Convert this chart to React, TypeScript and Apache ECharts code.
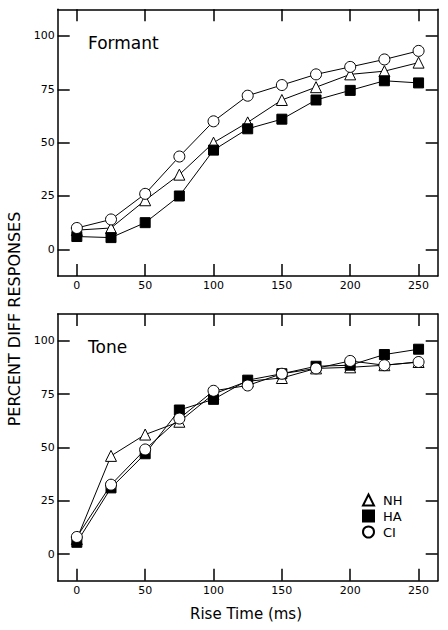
import React, { useEffect, useRef } from "react";
import * as echarts from "echarts";

const riseTime = [0, 25, 50, 75, 100, 125, 150, 175, 200, 225, 250];
const xTicks = [0, 50, 100, 150, 200, 250];
const yTicks = [0, 25, 50, 75, 100];
const seriesNames = ["NH", "HA", "CI"];

const formantNH = [9, 10, 23, 35, 50, 59.5, 70, 76, 82, 83.5, 87.5];
const formantHA = [6, 5.5, 12.5, 25, 46.5, 56.5, 61, 70, 74.5, 79, 78];
const formantCI = [10, 14, 26, 43.5, 60, 72, 77, 82, 85.5, 89, 93];

const toneNH = [7, 46, 56, 62, 75, 81, 82.5, 87, 87.5, 88.5, 90];
const toneHA = [5.5, 31, 47, 67.5, 72.5, 81.5, 84.5, 88, 88.5, 93.5, 96];
const toneCI = [8, 32.5, 49, 63.5, 76.5, 79, 84.5, 87, 90.5, 88.5, 90];

const FONT = "DejaVu Sans";

export default function App() {
  const ref = useRef<HTMLDivElement>(null);

  useEffect(() => {
    if (!ref.current) return;
    const chart = echarts.init(ref.current, null, { renderer: "svg" });

    const axisLineStyle = { color: "#000", width: 1.5 };
    const makeX = (gridIndex: number, position: "bottom" | "top", labels: boolean) => ({
      type: "value",
      gridIndex,
      position,
      min: -14,
      max: 264,
      axisLine: { show: true, onZero: false, lineStyle: axisLineStyle },
      axisTick: { show: true, inside: true, length: 12, customValues: xTicks, lineStyle: axisLineStyle },
      axisLabel: {
        show: labels,
        customValues: xTicks,
        margin: 4,
        color: "#000",
        fontSize: 11,
        fontFamily: FONT,
      },
      splitLine: { show: false },
    });
    const makeY = (gridIndex: number, position: "left" | "right", labels: boolean) => ({
      type: "value",
      gridIndex,
      position,
      min: -12.5,
      max: 112.5,
      axisLine: { show: true, onZero: false, lineStyle: axisLineStyle },
      axisTick: { show: true, inside: true, length: 12, customValues: yTicks, lineStyle: axisLineStyle },
      axisLabel: {
        show: labels,
        customValues: yTicks,
        margin: 3,
        color: "#000",
        fontSize: 11,
        fontFamily: FONT,
      },
      splitLine: { show: false },
    });

    const symbols: Record<string, { symbol: string; size: number; fill: string }> = {
      NH: { symbol: "triangle", size: 11, fill: "#fff" },
      HA: { symbol: "rect", size: 10, fill: "#000" },
      CI: { symbol: "circle", size: 11, fill: "#fff" },
    };

    const makeSeries = (name: string, values: number[], axisIdx: number, yIdx: number) => ({
      name,
      type: "line",
      xAxisIndex: axisIdx,
      yAxisIndex: yIdx,
      data: riseTime.map((t, i) => [t, values[i]]),
      symbol: symbols[name].symbol,
      symbolSize: symbols[name].size,
      showAllSymbol: true,
      lineStyle: { color: "#000", width: 1 },
      itemStyle: { color: symbols[name].fill, borderColor: "#000", borderWidth: 1 },
      emphasis: { disabled: true },
    });

    chart.setOption({
      animation: false,
      backgroundColor: "#fff",
      grid: [
        { left: 57.7, top: 9.3, width: 380, height: 266.7 },
        { left: 57.7, top: 314, width: 380, height: 266.7 },
      ],
      xAxis: [makeX(0, "bottom", true), makeX(0, "top", false), makeX(1, "bottom", true), makeX(1, "top", false)],
      yAxis: [makeY(0, "left", true), makeY(0, "right", false), makeY(1, "left", true), makeY(1, "right", false)],
      legend: {
        orient: "vertical",
        left: 362,
        top: 492,
        padding: 0,
        itemWidth: 11,
        itemHeight: 11,
        itemGap: 0,
        selectedMode: false,
        textStyle: { color: "#000", fontSize: 13, fontFamily: FONT, lineHeight: 16, padding: [0, 0, 0, 4] },
        data: seriesNames.map((n) => ({ name: n, icon: symbols[n].symbol })),
      },
      series: [
        makeSeries("NH", formantNH, 0, 0),
        makeSeries("HA", formantHA, 0, 0),
        makeSeries("CI", formantCI, 0, 0),
        makeSeries("NH", toneNH, 2, 2),
        makeSeries("HA", toneHA, 2, 2),
        makeSeries("CI", toneCI, 2, 2),
      ],
      graphic: [
        {
          type: "text",
          x: 88,
          y: 43,
          style: { text: "Formant", fontSize: 17, fontFamily: FONT, fill: "#000", verticalAlign: "middle" },
        },
        {
          type: "text",
          x: 88,
          y: 347,
          style: { text: "Tone", fontSize: 17, fontFamily: FONT, fill: "#000", verticalAlign: "middle" },
        },
        {
          type: "text",
          x: 14,
          y: 319,
          rotation: Math.PI / 2,
          style: {
            text: "PERCENT DIFF RESPONSES",
            fontSize: 16,
            fontFamily: FONT,
            fill: "#000",
            align: "center",
            verticalAlign: "middle",
          },
        },
        {
          type: "text",
          x: 246,
          y: 614,
          style: {
            text: "Rise Time (ms)",
            fontSize: 15,
            fontFamily: FONT,
            fill: "#000",
            align: "center",
            verticalAlign: "middle",
          },
        },
      ],
    });

    return () => chart.dispose();
  }, []);

  return (
    <div
      ref={ref}
      style={{ position: "fixed", left: 0, top: 0, width: 448, height: 630, background: "#fff" }}
    />
  );
}
